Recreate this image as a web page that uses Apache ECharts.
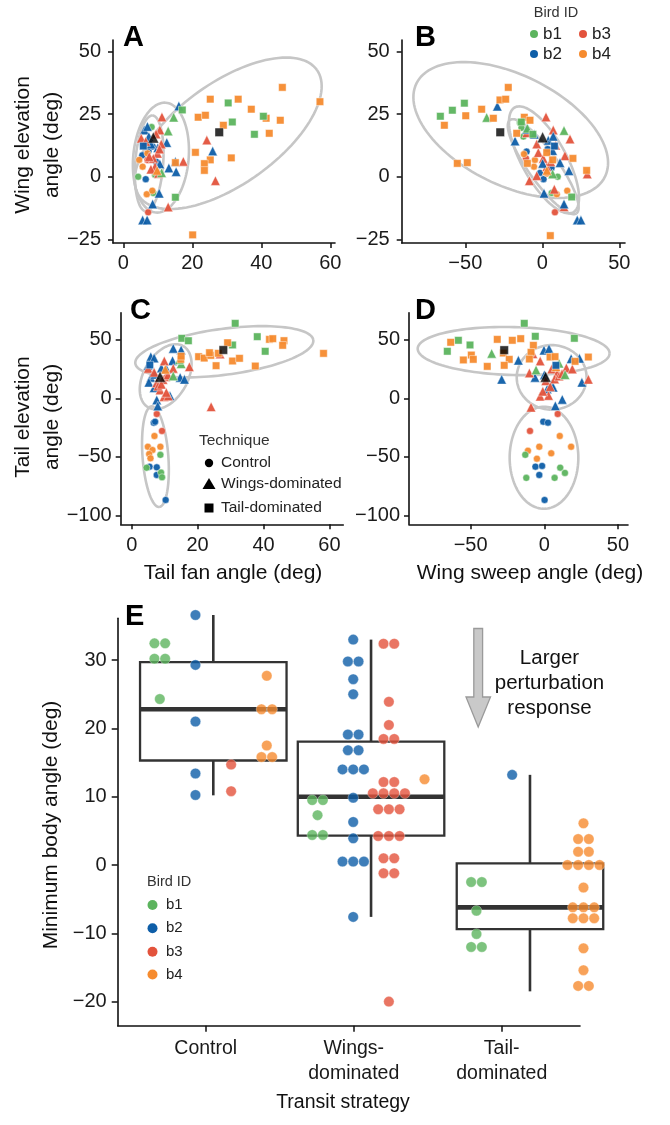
<!DOCTYPE html>
<html><head><meta charset="utf-8">
<script src="https://cdn.jsdelivr.net/npm/echarts@6/dist/echarts.min.js"></script>
<style>html,body{margin:0;padding:0;background:#fff}#c{width:670px;height:1125px}</style>
</head><body><div id="c"></div><script>
// ---------------- DATA ----------------
const birdIds = ['b1', 'b2', 'b3', 'b4'];
const techniques = ['Control', 'Wings-dominated', 'Tail-dominated'];
const strategyLabels = ['Control', 'Wings-\ndominated', 'Tail-\ndominated'];

const ticksFan = [0, 20, 40, 60];
const ticksWingElev = [-25, 0, 25, 50];
const ticksSweep = [-50, 0, 50];
const ticksTailElev = [-100, -50, 0, 50];
const ticksBody = [-20, -10, 0, 10, 20, 30];

// Panel A: tail fan angle (x) vs wing elevation angle (y); [x, y, birdIndex]
const A_control = [[4.3,0.0,0],[8.2,19.8,0],[8.7,-6.5,0],[9.2,0.8,0],[6.5,12.5,0],
  [5.5,8.5,1],[6.5,-1.0,1],[7.3,10.2,1],[8.5,12.0,1],[9.5,6.0,1],
  [7.2,-14.2,2],[7.0,6.7,2],
  [4.6,6.7,3],[5.6,4.0,3],[7.0,9.3,3],[6.8,-7.0,3],[8.4,-5.6,3],[9.8,2.0,3]];
const A_wings = [[16.1,28.2,1],[6.1,18.6,1],[7.4,16.0,1],[12.6,13.6,1],[25.9,10.2,1],[15.1,6.1,1],[13.2,3.5,1],[15.3,2.0,1],[10.6,5.1,1],[10.4,-6.6,1],[8.5,-10.9,1],[5.6,-17.3,1],[6.9,-17.3,1],[8.0,13.0,1],[10.0,11.5,1],[7.0,20.0,1],
  [11.2,23.8,2],[10.6,18.6,2],[5.2,15.3,2],[11.0,13.0,2],[9.9,9.3,2],[8.7,7.3,2],[17.4,6.1,2],[24.2,14.6,2],[26.7,-1.6,2],[13.0,-12.1,2],[9.2,4.0,2],[10.2,1.3,2],[7.5,8.0,2],[10.5,11.0,2],[8.0,3.0,2],[6.5,14.0,2],[9.5,17.0,2],
  [14.6,23.7,0],[13.0,18.2,0],[11.1,1.6,0],[9.8,2.5,3]];
const A_tail = [[46.1,35.6,3],[25.2,30.9,3],[33.3,30.9,3],[37.1,26.9,3],[57.0,29.9,3],[21.7,23.7,3],[23.8,24.5,3],[41.4,23.3,3],[45.5,22.5,3],[29.0,20.5,3],[42.3,17.3,3],[20.9,9.7,3],[31.3,7.5,3],[25.2,6.7,3],[23.5,5.2,3],[23.5,2.5,3],[15.1,5.6,3],[20.1,-23.2,3],
  [17.1,26.6,0],[30.4,29.4,0],[31.6,21.8,0],[40.6,24.1,0],[38.0,16.9,0],[15.1,-8.2,0],[5.8,12.2,1]];
const A_means = [[8.7,15.6,1],[27.8,17.7,2]]; // [x, y, techniqueIndex]
const A_ellipses = [[30.4,17.3,25.7,25.3,8.6,-16.5],[10.9,7.6,1.45,21.9,8.0,-1.0],[7.5,5.3,0.9,19.1,4.06,0]]; // center, conjugate semi-axes

// Panel B: wing sweep angle (x) vs wing elevation angle (y)
const B_control = [[-14.5,21.5,0],[-12.3,16.0,0],[10.0,0.0,0],[6.1,-6.5,0],[-13.5,19.5,0],
  [-10.2,10.0,1],[0.8,-1.0,1],[-1.5,1.5,1],[3.5,11.0,1],[6.0,3.5,1],
  [8.2,-14.2,2],[-10.6,7.3,2],
  [-11.9,9.0,3],[-5.4,4.0,3],[3.1,1.3,3],[16.2,-5.6,3],[9.4,-7.0,3],[-4.8,6.7,3]];
const B_wings = [[2.4,23.8,2],[7.1,18.6,2],[18.0,15.0,2],[-10.1,17.5,2],[-3.6,13.0,2],[8.7,12.5,2],[-2.6,9.6,2],[14.7,8.3,2],[2.9,4.0,2],[-3.6,0.4,2],[-8.4,-1.6,2],[7.8,-5.0,2],[14.1,-12.0,2],[29.2,1.1,2],[0.6,7.3,2],[5.5,6.0,2],
  [-29.2,28.1,1],[-17.7,14.2,1],[-10.2,18.9,1],[-5.2,16.9,1],[3.9,14.5,1],[7.1,16.1,1],[6.7,10.4,1],[11.5,5.6,1],[17.3,2.4,1],[1.1,-6.6,1],[14.1,-10.9,1],[22.7,-17.3,1],[25.1,-17.3,1],[0.2,5.3,1],
  [14.1,18.4,0],[-9.7,19.3,0],[6.7,1.1,0],[-36.1,23.6,0],[3.0,2.5,3]];
const B_tail = [[-22.1,35.6,3],[-27.5,30.6,3],[-23.8,30.9,3],[-39.4,26.9,3],[-31.8,23.3,3],[-49.7,24.3,3],[-63.6,20.5,3],[-55.2,5.3,3],[-48.7,5.6,3],[-11.7,23.7,3],[-8.0,22.5,3],[-16.6,17.3,3],[-9.7,5.3,3],[2.9,9.6,3],[6.7,6.7,3],[19.9,7.3,3],[28.8,2.5,3],[5.2,-23.5,3],
  [-50.6,29.3,0],[-58.4,26.5,0],[-66.2,24.1,0],[19.1,-8.1,0],[-13.6,21.8,0],[-6.1,16.9,0],[7.9,12.2,1]];
const B_means = [[0.2,15.7,1],[-27.3,17.7,2]];
const B_ellipses = [[-20.5,18.6,61.2,-18.6,-15.8,-19.7],[1.1,6.7,19.0,-20.9,-12.5,-4.3],[0.6,4.0,21.6,-18.6,-7.9,-3.5]];

// Panel C: tail fan angle (x) vs tail elevation angle (y)
const C_control = [[7.6,-13.4,2],[9.2,-27.9,2],
  [6.7,-20.8,1],[7.1,-20.0,1],[5.4,-58.4,1],[7.6,-59.0,1],[7.6,-65.5,1],[10.3,-86.9,1],
  [6.9,-32.2,3],[4.9,-41.4,3],[8.7,-41.4,3],[6.3,-44.2,3],[5.3,-47.6,3],[5.7,-51.3,3],
  [8.7,-48.3,0],[4.5,-59.3,0],[8.9,-63.5,0],[9.2,-67.5,0]];
const C_wings = [[5.8,35.6,1],[6.8,34.4,1],[12.6,42.7,1],[15.0,41.3,1],[12.4,32.2,1],[14.7,17.9,1],[16.0,16.2,1],[5.8,17.9,1],[5.2,13.7,1],[6.8,9.1,1],[10.6,24.8,1],[11.6,2.3,1],[7.6,-1.4,1],[7.9,-6.6,1],[5.0,28.0,1],[7.0,20.5,1],[9.0,26.0,1],
  [5.0,25.6,2],[6.8,22.2,2],[9.9,31.9,2],[12.6,25.6,2],[17.5,27.0,2],[10.3,18.5,2],[8.6,7.1,2],[9.8,1.4,2],[11.1,2.0,2],[24.1,-7.2,2],[26.8,37.9,2],[7.6,13.2,2],[9.5,16.0,2],[8.0,10.5,2],[11.0,20.0,2],[9.0,12.0,2],[10.5,5.0,2],
  [12.6,19.1,0],[15.0,29.6,0],[14.5,33.0,0],[10.2,24.8,3]];
const C_tail = [[31.4,64.1,0],[15.2,51.3,0],[17.2,49.2,0],[38.1,52.7,0],[30.6,45.6,0],[40.5,40.2,0],
  [41.8,50.4,3],[42.8,51.0,3],[46.2,49.3,3],[45.8,45.3,3],[58.2,38.4,3],[29.1,47.5,3],[20.3,35.6,3],[22.0,34.4,3],[24.0,36.7,3],[23.6,39.0,3],[25.6,27.9,3],[30.6,31.9,3],[32.7,34.2,3],[37.5,27.6,3],[14.9,33.3,3],[26.3,38.5,3],[15.0,36.0,3],
  [5.5,28.5,1]];
const C_means = [[8.6,18.5,1],[27.8,41.3,2]];
const C_ellipses = [[28.1,39.8,27.0,10.0,0.91,-19.5],[10.3,18.5,5.3,26.2,5.8,-9.2],[7.2,-49.9,1.15,-43.0,3.9,0.85]];

// Panel D: wing sweep angle (x) vs tail elevation angle (y)
const D_control = [[9.1,-13.4,2],[-9.7,-27.9,2],
  [-0.7,-20.0,1],[2.5,-20.8,1],[-6.0,-58.4,1],[-1.5,-57.8,1],[-3.4,-65.5,1],[0.2,-86.9,1],
  [10.5,-32.2,3],[18.2,-41.4,3],[-3.4,-41.4,3],[-11.1,-44.8,3],[-5.0,-51.6,3],[4.7,-47.0,3],
  [-12.9,-48.3,0],[-12.2,-68.0,0],[7.0,-68.0,0],[10.8,-59.3,0],[14.0,-63.8,0]];
const D_wings = [[-28.9,16.2,1],[-17.6,32.5,1],[-0.2,41.2,1],[3.2,42.3,1],[18.2,33.9,1],[23.9,34.2,1],[-6.3,17.9,1],[25.5,13.7,1],[12.2,-0.9,1],[7.5,-6.4,1],[2.0,8.0,1],[5.0,12.0,1],[6.0,9.5,1],[0.0,20.0,1],
  [-10.1,21.7,2],[-2.8,31.9,2],[5.0,25.0,2],[9.0,22.0,2],[15.0,26.0,2],[19.0,25.0,2],[29.9,16.2,2],[-9.0,-7.7,2],[-2.8,1.8,2],[2.9,2.4,2],[1.0,15.0,2],[7.0,16.5,2],[10.0,19.0,2],[-7.7,38.0,2],[4.0,10.0,2],[-1.0,6.0,2],[12.0,21.0,2],
  [-35.7,38.4,0],[-5.6,24.3,0],[14.1,20.2,0],[10.0,30.0,0],[8.0,27.0,3]];
const D_tail = [[-13.6,64.1,0],[-6.1,53.0,0],[20.4,51.3,0],[-58.3,49.6,0],[-50.4,45.6,0],[-65.8,40.2,0],
  [-63.5,47.9,3],[-31.9,50.4,3],[-21.7,49.6,3],[-16.0,51.0,3],[-7.4,45.3,3],[-9.0,39.3,3],[-27.8,38.7,3],[-49.5,37.0,3],[-48.2,33.3,3],[-54.9,32.8,3],[-23.8,33.3,3],[-38.7,27.3,3],[-27.2,28.2,3],[-10.1,33.6,3],[3.9,35.3,3],[7.3,35.6,3],[20.9,31.6,3],[29.9,35.3,3],
  [7.9,28.2,1]];
const D_means = [[0.9,18.5,1],[-27.2,41.2,2]];
const D_ellipses = [[-20.8,40.4,65.1,-2.1,-0.4,-20.5],[5.0,17.9,23.7,0,0,27.6],[-0.2,-50.8,23.3,0,0,43.6]];

// Panel E: minimum body angle by transit strategy; box = [low whisker, Q1, median, Q3, high whisker]
const E_box = [[10.2,15.3,22.8,29.7,36.6],[-7.6,4.3,10.0,18.05,33.0],[-18.5,-9.4,-6.2,0.25,13.2]];
// [strategyIndex, value] per bird
const E_b1 = [[0,32.45],[0,32.45],[0,30.2],[0,30.2],[0,24.3],
  [1,9.5],[1,9.5],[1,7.3],[1,4.4],[1,4.4],
  [2,-2.5],[2,-2.5],[2,-6.7],[2,-10.1],[2,-12.0],[2,-12.0]];
const E_b2 = [[0,36.6],[0,29.3],[0,21.0],[0,13.4],[0,10.25],
  [1,33.0],[1,29.8],[1,29.8],[1,27.2],[1,25.0],[1,19.1],[1,19.1],[1,16.8],[1,16.8],[1,14.0],[1,14.0],[1,14.0],[1,9.85],[1,6.3],[1,3.9],[1,0.5],[1,0.5],[1,0.5],[1,-7.6],
  [2,13.2]];
const E_b3 = [[0,14.7],[0,10.8],
  [1,32.4],[1,32.4],[1,23.9],[1,20.5],[1,18.45],[1,18.45],[1,12.15],[1,12.15],[1,10.5],[1,10.5],[1,10.5],[1,10.5],[1,8.15],[1,8.15],[1,8.15],[1,4.25],[1,4.25],[1,4.25],[1,0.98],[1,0.98],[1,-1.2],[1,-1.2],[1,-20.0]];
const E_b4 = [[0,27.7],[0,22.8],[0,22.8],[0,17.5],[0,15.8],[0,15.8],
  [1,12.55],
  [2,6.1],[2,3.8],[2,3.8],[2,1.95],[2,1.95],[2,0.0],[2,0.0],[2,0.0],[2,0.0],[2,-3.3],[2,-6.2],[2,-6.2],[2,-6.2],[2,-7.8],[2,-7.8],[2,-7.8],[2,-12.2],[2,-15.4],[2,-17.7],[2,-17.7]];

// ---------------- STYLE / LAYOUT ----------------
const FONT = '"Liberation Sans", Arial, Helvetica, sans-serif';
const BIRD_COLORS = ['#5cb45e', '#0e5ea8', '#e3533c', '#f68b2f'];
const TECH_SYMBOLS = ['circle', 'triangle', 'rect'];
const TECH_SIZES = [7, 9.5, 7.5];
const MEAN_SIZES = [8, 11, 8.5];
const INK = '#111';
const BOX_SHIFT = [0.051, 0.117, 0.191];
const BOX_HALF = 0.495;
const COL_STEP = 0.241;
const DOT_STEP = 0.0723;

const minus = v => String(v).replace('-', '\u2212');

function valueAxis(idx, min, max, ticks, margin, extra) {
  const ax = {
    type: 'value', gridIndex: idx, min, max,
    axisLine: { show: true, onZero: false, lineStyle: { color: INK, width: 1.6 } },
    axisTick: { show: true, inside: false, length: 5, lineStyle: { color: INK, width: 1.5 }, customValues: ticks },
    axisLabel: { show: true, customValues: ticks, margin, color: '#1a1a1a', fontSize: 20, fontFamily: FONT, formatter: minus },
    splitLine: { show: false }
  };
  return Object.assign(ax, extra || {});
}

function ellipseSeries(idx, list) {
  return {
    type: 'custom', xAxisIndex: idx, yAxisIndex: idx, z: 1, silent: true, data: list,
    renderItem(params, api) {
      const cx = api.value(0), cy = api.value(1), ux = api.value(2), uy = api.value(3), vx = api.value(4), vy = api.value(5);
      const pts = [];
      for (let i = 0; i <= 120; i++) {
        const t = i / 120 * 2 * Math.PI;
        pts.push(api.coord([cx + ux * Math.cos(t) + vx * Math.sin(t), cy + uy * Math.cos(t) + vy * Math.sin(t)]));
      }
      return { type: 'polyline', shape: { points: pts }, style: { fill: 'none', stroke: '#c6c6c6', lineWidth: 2.6 } };
    }
  };
}

function scatterSeries(idx, data, tech) {
  return {
    type: 'scatter', xAxisIndex: idx, yAxisIndex: idx, z: 3, silent: true,
    symbol: TECH_SYMBOLS[tech], symbolSize: TECH_SIZES[tech],
    itemStyle: { borderColor: 'rgba(255,255,255,0.8)', borderWidth: 0.6, opacity: 0.95 },
    data: data.map(d => ({ value: [d[0], d[1]], itemStyle: { color: BIRD_COLORS[d[2]] } }))
  };
}

function meanSeries(idx, data) {
  return {
    type: 'scatter', xAxisIndex: idx, yAxisIndex: idx, z: 4, silent: true,
    data: data.map(d => ({ value: [d[0], d[1]], symbol: TECH_SYMBOLS[d[2]], symbolSize: MEAN_SIZES[d[2]] })),
    itemStyle: { color: '#000', borderColor: '#fff', borderWidth: 0.5 }
  };
}

function panelSeries(idx, ctrl, wings, tail, means, ells) {
  return [ellipseSeries(idx, ells), scatterSeries(idx, ctrl, 0), scatterSeries(idx, wings, 1), scatterSeries(idx, tail, 2), meanSeries(idx, means)];
}

function swarm(arr, bird) {
  const groups = new Map();
  arr.forEach(([c, v]) => { const k = c + '|' + v; if (!groups.has(k)) groups.set(k, []); groups.get(k).push([c, v]); });
  const out = [];
  groups.forEach(g => g.forEach(([c, v], k) => {
    out.push([c + BOX_SHIFT[c] + (bird - 1.5) * COL_STEP + (k - (g.length - 1) / 2) * DOT_STEP, v]);
  }));
  return out;
}

const boxSeries = {
  type: 'custom', xAxisIndex: 4, yAxisIndex: 4, z: 2, silent: true, clip: false,
  data: E_box.map((b, i) => [i].concat(b)),
  renderItem(params, api) {
    const i = api.value(0), c = i + BOX_SHIFT[i];
    const lo = api.value(1), q1 = api.value(2), med = api.value(3), q3 = api.value(4), hi = api.value(5);
    const tl = api.coord([c - BOX_HALF, q3]), br = api.coord([c + BOX_HALF, q1]);
    const m = api.coord([c, med]), h = api.coord([c, hi]), l = api.coord([c, lo]);
    const st = { stroke: '#333', lineWidth: 2.6 };
    return { type: 'group', children: [
      { type: 'line', shape: { x1: m[0], y1: h[1], x2: m[0], y2: tl[1] }, style: st },
      { type: 'line', shape: { x1: m[0], y1: br[1], x2: m[0], y2: l[1] }, style: st },
      { type: 'rect', shape: { x: tl[0], y: tl[1], width: br[0] - tl[0], height: br[1] - tl[1] }, style: { fill: 'none', stroke: '#333', lineWidth: 2.3 } },
      { type: 'line', shape: { x1: tl[0], y1: m[1], x2: br[0], y2: m[1] }, style: { stroke: '#333', lineWidth: 4.6 } }
    ]};
  }
};

function swarmSeries(arr, bird) {
  return { type: 'scatter', xAxisIndex: 4, yAxisIndex: 4, z: 3, silent: true, clip: false,
    symbol: 'circle', symbolSize: 10.5, itemStyle: { color: BIRD_COLORS[bird], borderColor: '#fff', borderWidth: 0.4 },
    data: swarm(arr, bird) };
}

// ---------------- GRAPHIC (labels, legends, annotation) ----------------
const T = (text, x, y, size, opts) => Object.assign({ type: 'text', x, y, silent: true,
  style: Object.assign({ text, fill: '#111', font: `${size}px ${FONT}`, textAlign: 'center', textVerticalAlign: 'middle' }, (opts && opts.style) || {}) },
  (opts && opts.el) || {});

const graphic = [];
[['A', 123, 38], ['B', 415, 38], ['C', 130, 311], ['D', 415, 311], ['E', 125, 617]].forEach(([t, x, y]) =>
  graphic.push(T(t, x, y, 29, { style: { font: `bold 29px ${FONT}`, textAlign: 'left', fill: '#000' } })));
graphic.push(T('Wing elevation\nangle (deg)', 37.5, 145, 21, { el: { rotation: Math.PI / 2 }, style: { lineHeight: 29 } }));
graphic.push(T('Tail elevation\nangle (deg)', 37.5, 417, 21, { el: { rotation: Math.PI / 2 }, style: { lineHeight: 29 } }));
graphic.push(T('Minimum body angle (deg)', 51.5, 825, 21, { el: { rotation: Math.PI / 2 } }));
graphic.push(T('Tail fan angle (deg)', 233, 573, 21));
graphic.push(T('Wing sweep angle (deg)', 530, 573, 21));
graphic.push(T('Transit strategy', 343, 1103, 19.5));

// Bird ID legend (panel B)
graphic.push(T('Bird ID', 556, 13, 14.5, { style: { fill: '#333' } }));
[[0, 534, 34], [2, 583, 34], [1, 534, 54], [3, 583, 54]].forEach(([b, x, y]) => {
  graphic.push({ type: 'circle', silent: true, shape: { cx: x, cy: y, r: 4 }, style: { fill: BIRD_COLORS[b] } });
  graphic.push(T(birdIds[b], x + 9, y, 17, { style: { textAlign: 'left', fill: '#222' } }));
});
// Technique legend (panel C)
graphic.push(T('Technique', 199, 441, 15.5, { style: { textAlign: 'left', fill: '#333' } }));
[[0, 463], [1, 484], [2, 508]].forEach(([t, y]) => {
  if (t === 0) graphic.push({ type: 'circle', silent: true, shape: { cx: 209, cy: y, r: 4.2 }, style: { fill: '#000' } });
  if (t === 1) graphic.push({ type: 'polygon', silent: true, shape: { points: [[209, y - 6], [215.5, y + 5], [202.5, y + 5]] }, style: { fill: '#000' } });
  if (t === 2) graphic.push({ type: 'rect', silent: true, shape: { x: 204.5, y: y - 4.5, width: 9, height: 9 }, style: { fill: '#000' } });
  graphic.push(T(techniques[t], 221, y, 15.5, { style: { textAlign: 'left', fill: '#222' } }));
});
// Bird ID legend (panel E)
graphic.push(T('Bird ID', 147, 882, 14.5, { style: { textAlign: 'left', fill: '#333' } }));
[905, 928.3, 951.7, 974.5].forEach((y, b) => {
  graphic.push({ type: 'circle', silent: true, shape: { cx: 152.5, cy: y, r: 5 }, style: { fill: BIRD_COLORS[b] } });
  graphic.push(T(birdIds[b], 166, y, 15, { style: { textAlign: 'left', fill: '#222' } }));
});
// Arrow + annotation (panel E)
graphic.push({ type: 'polygon', silent: true,
  shape: { points: [[473.8, 628.5], [482.6, 628.5], [482.6, 697], [490.5, 697], [478.2, 727], [466, 697], [473.8, 697]] },
  style: { fill: '#c9c9c9', stroke: '#9a9a9a', lineWidth: 1.3 } });
graphic.push(T('Larger\nperturbation\nresponse', 549.5, 683.5, 20.5, { style: { lineHeight: 25 } }));

// ---------------- OPTION ----------------
const option = {
  backgroundColor: '#fff',
  animation: false,
  grid: [
    { left: 113, top: 40, width: 222, height: 203 },
    { left: 401.7, top: 40, width: 223.3, height: 203 },
    { left: 120.7, top: 312.7, width: 222.6, height: 211.6 },
    { left: 409, top: 312.7, width: 219, height: 211.6 },
    { left: 117.7, top: 618.3, width: 462.3, height: 407.4 }
  ],
  xAxis: [
    valueAxis(0, -2.99, 61.36, ticksFan, 10),
    valueAxis(1, -91.3, 53.7, ticksSweep, 10),
    valueAxis(2, -3.34, 64.2, ticksFan, 11),
    valueAxis(3, -91.8, 56.8, ticksSweep, 11),
    valueAxis(4, -0.595, 2.529, [0, 1, 2], 10)
  ],
  yAxis: [
    valueAxis(0, -26.44, 54.5, ticksWingElev, 12),
    valueAxis(1, -26.44, 54.5, ticksWingElev, 12),
    valueAxis(2, -107.7, 73.2, ticksTailElev, 9),
    valueAxis(3, -107.7, 73.2, ticksTailElev, 9),
    valueAxis(4, -23.53, 36.12, ticksBody, 11)
  ],
  graphic,
  series: []
};
option.xAxis[4].axisTick.length = 6;
option.yAxis[4].axisTick.length = 6;
option.xAxis[4].axisLabel = Object.assign({}, option.xAxis[4].axisLabel, {
  fontSize: 19.5, lineHeight: 25, formatter: v => strategyLabels[Math.round(v)] });

option.series = [].concat(
  panelSeries(0, A_control, A_wings, A_tail, A_means, A_ellipses),
  panelSeries(1, B_control, B_wings, B_tail, B_means, B_ellipses),
  panelSeries(2, C_control, C_wings, C_tail, C_means, C_ellipses),
  panelSeries(3, D_control, D_wings, D_tail, D_means, D_ellipses),
  [boxSeries, swarmSeries(E_b1, 0), swarmSeries(E_b2, 1), swarmSeries(E_b3, 2), swarmSeries(E_b4, 3)]
);

const chart = echarts.init(document.getElementById('c'), null, { renderer: 'canvas' });
chart.setOption(option);
</script></body></html>
